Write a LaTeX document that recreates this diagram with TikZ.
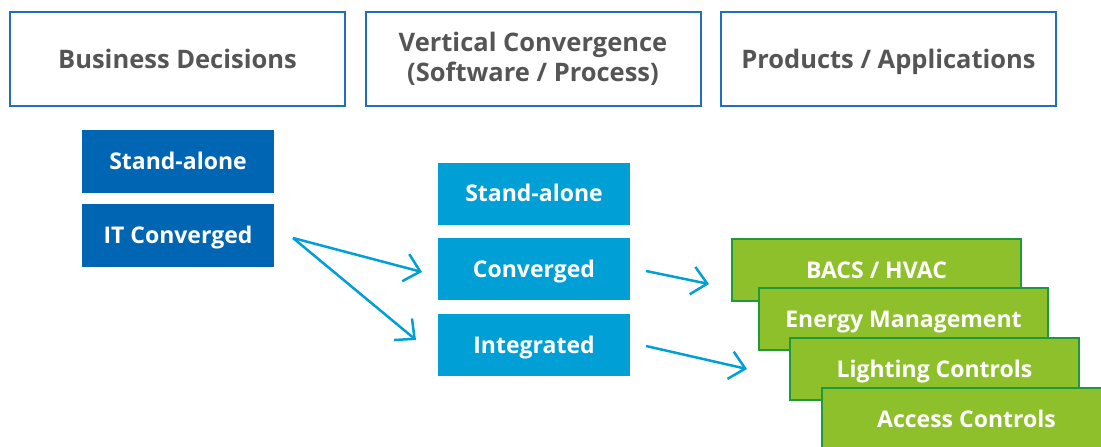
\documentclass[tikz,border=0pt]{standalone}
\usepackage{fontspec}
\setmainfont{Open Sans}
\usetikzlibrary{arrows.meta}
\definecolor{hdrblue}{HTML}{1F6FBF}
\definecolor{hdrtext}{HTML}{555555}
\definecolor{darkblue}{HTML}{0066B3}
\definecolor{lightblue}{HTML}{00A0D6}
\definecolor{grfill}{HTML}{8DC02A}
\definecolor{grline}{HTML}{1E9A3C}
\tikzset{
  x=1pt,y=-1pt,
  hdr/.style={draw=hdrblue,line width=2pt,fill=white,minimum width=335pt,minimum height=94pt,
    text=hdrtext,font=\fontsize{25.5}{29.5}\selectfont\bfseries,align=center,inner sep=0pt},
  onehdr/.style={hdr,text height=22pt,text depth=3.8pt},
  onewhite/.style={text=white,font=\fontsize{23}{26}\selectfont\bfseries,inner sep=0pt,
    text height=20pt,text depth=3.6pt},
  dbox/.style={onewhite,fill=darkblue,minimum width=192pt,minimum height=63pt},
  lbox/.style={onewhite,fill=lightblue,minimum width=192pt,minimum height=62pt},
  gbox/.style={onewhite,draw=grline,line width=2pt,fill=grfill,minimum width=289pt,minimum height=62pt,
    anchor=north west},
  arr/.style={draw=lightblue,line width=2.5pt,-{Straight Barb[length=15pt,width=28pt,line width=2.5pt]}}
}
\begin{document}
\begin{tikzpicture}
\useasboundingbox (0,0) rectangle (1101,447);
\begin{scope}
\clip (0,0) rectangle (1101,447);
\node[onehdr] (h1) at (177.5,59) {Business Decisions};
\node[hdr] (h2) at (533,59) {Vertical Convergence\\(Software / Process)};
\node[onehdr] (h3) at (888.5,59) {Products / Applications};
\node[dbox] (d1) at (178,161.5) {Stand-alone};
\node[dbox] (d2) at (178,235.5) {IT Converged};
\node[lbox] (l1) at (534,193.5) {Stand-alone};
\node[lbox] (l2) at (534,269) {Converged};
\node[lbox] (l3) at (534,345) {Integrated};
\node[gbox] (g1) at (731,238) {BACS / HVAC};
\node[gbox] (g2) at (758,287) {Energy Management};
\node[gbox] (g3) at (789,337) {Lighting Controls};
\node[gbox] (g4) at (821,387) {Access Controls};
\coordinate (s1) at (293,238);
\coordinate (t1) at (422,272);
\coordinate (t2) at (416,340);
\coordinate (s2) at (646,271);
\coordinate (t3) at (709,284);
\coordinate (s3) at (646,346);
\coordinate (t4) at (747,369);
\draw[arr] (s1) -- (t1);
\draw[arr] (s1) -- (t2);
\draw[arr] (s2) -- (t3);
\draw[arr] (s3) -- (t4);
\end{scope}
\end{tikzpicture}
\end{document}
